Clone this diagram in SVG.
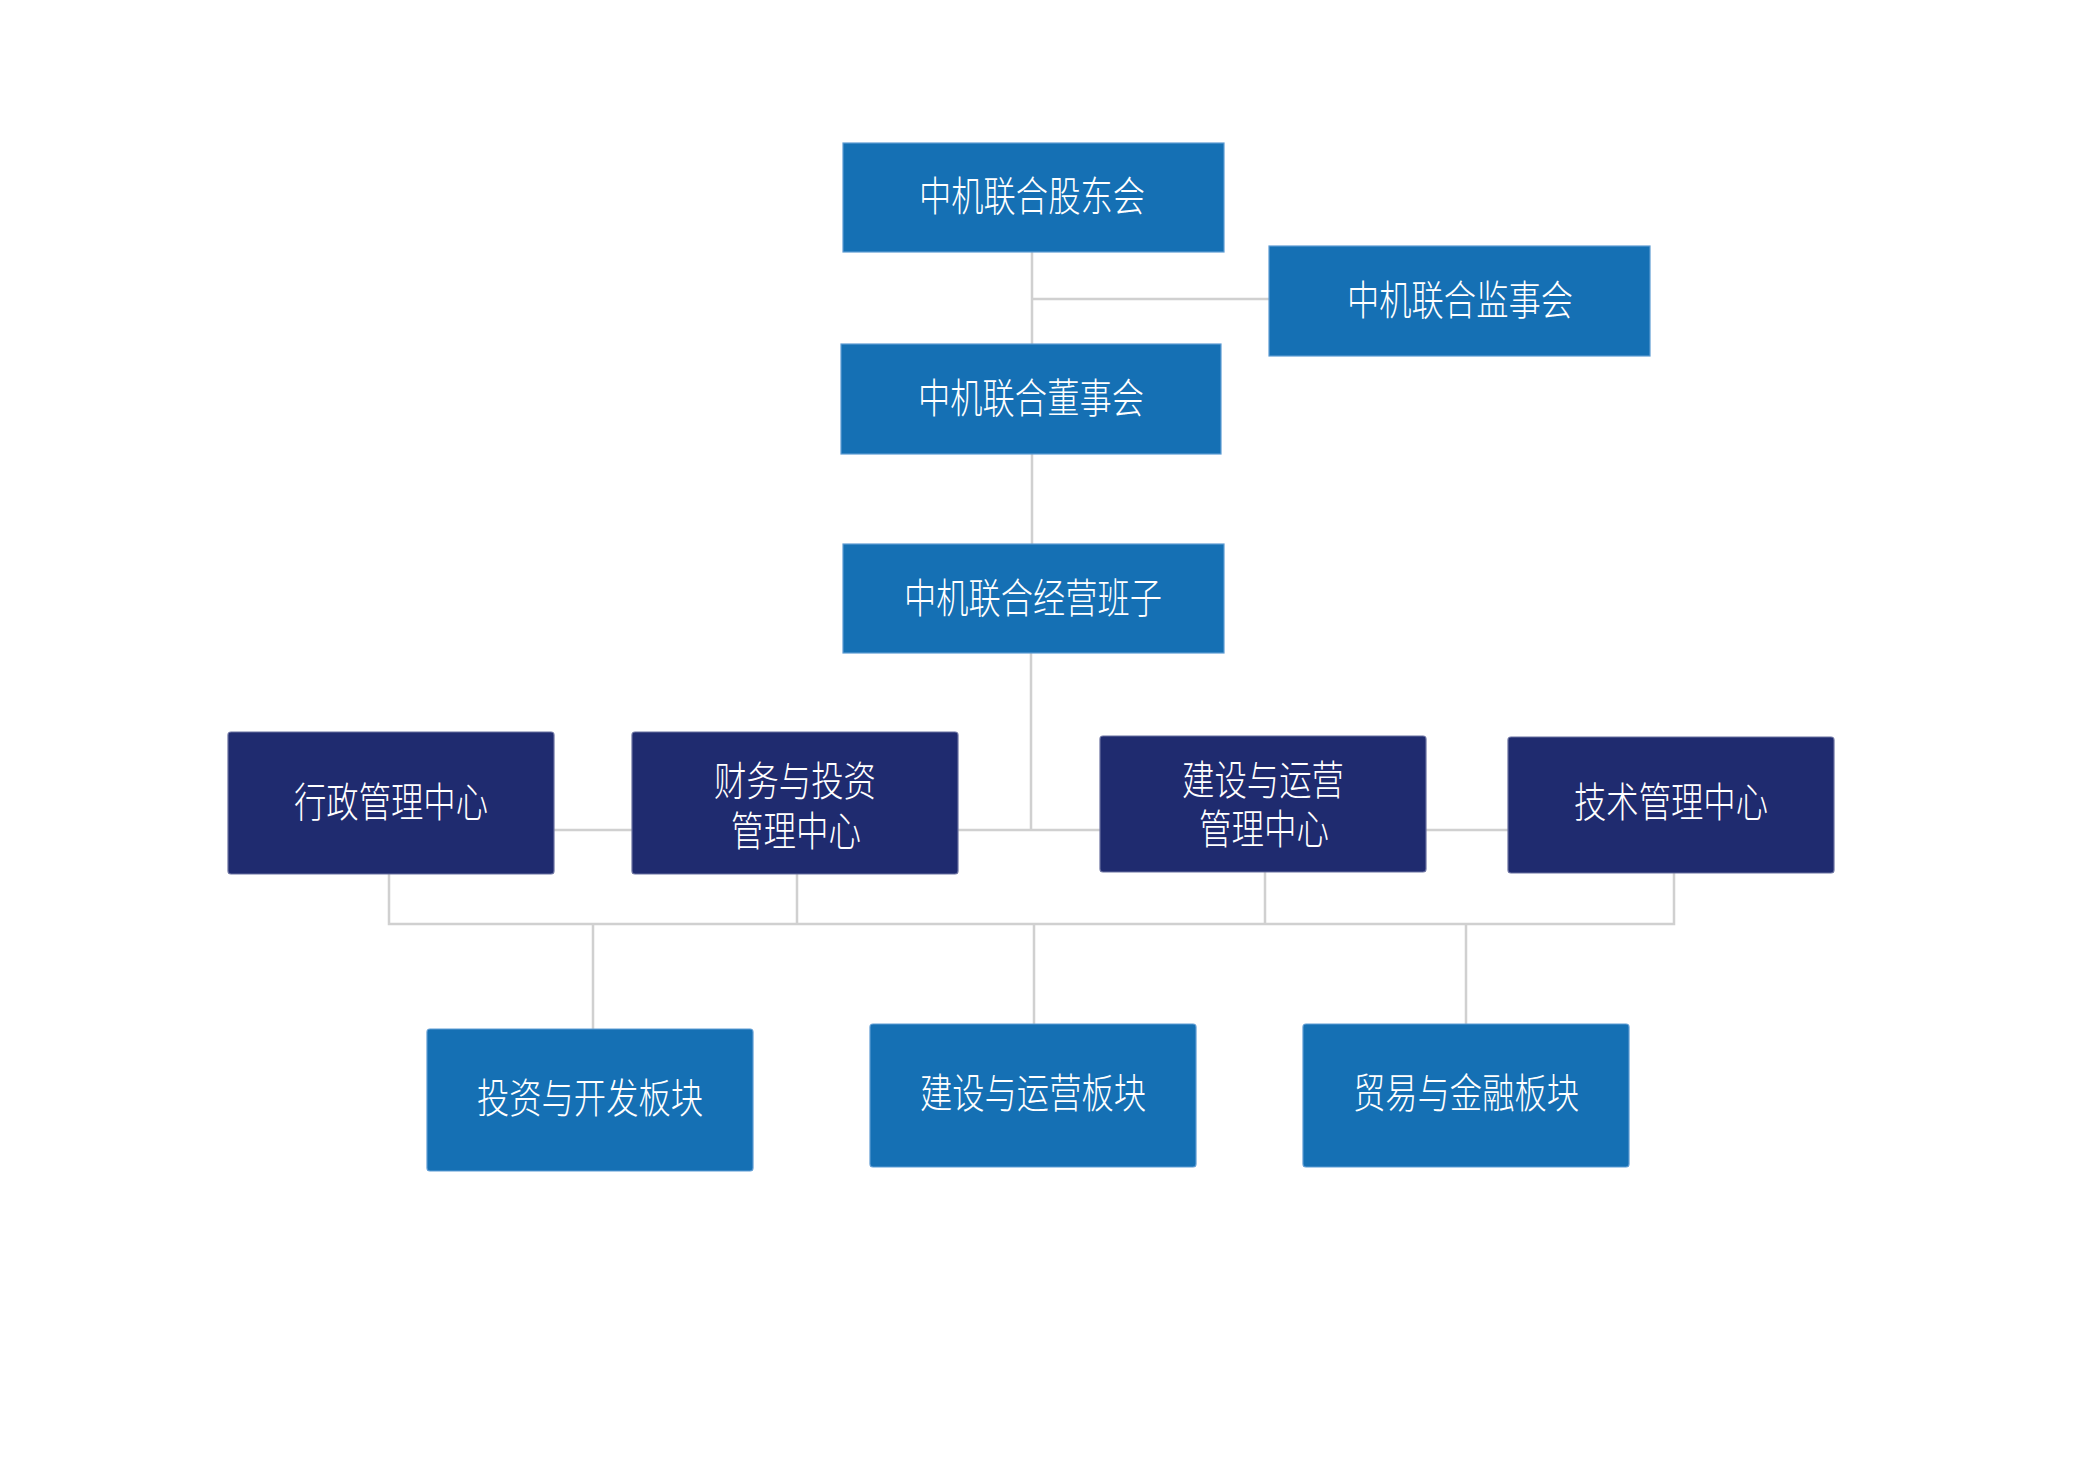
<svg xmlns="http://www.w3.org/2000/svg" width="2083" height="1458" viewBox="0 0 2083 1458">
<style>
.bg{fill:#ffffff}
.conn{stroke:#d0d0d0;stroke-width:2.5;fill:none}
.top{fill:#1570b4;stroke:#5d9bd3;stroke-width:1.2}
.navy{fill:#1f2b6f;stroke:#6970a0;stroke-width:1.2}
.blk{fill:#1570b4;stroke:#5d9bd3;stroke-width:1.2}
.t{font-family:"Noto Sans CJK SC","Noto Sans",sans-serif;font-size:41px;font-weight:300;fill:#ffffff;text-anchor:middle}
</style>
<rect class="bg" x="0" y="0" width="2083" height="1458"/>
<g id="connectors">
<path class="conn" d="M1032 252 V344 M1032 299 H1270 M1032 454 V544 M1031 653 V830 M554 830 H1508"/>
<path class="conn" d="M389 874 V924 H1674 V873 M797 874 V924 M1265 872 V924"/>
<path class="conn" d="M593 924 V1029 M1034 924 V1024 M1466 924 V1024"/>
</g>
<g id="n-gudong">
<rect class="top" x="843" y="143" width="381" height="109"/>
<text class="t" x="1032" y="211" textLength="226" lengthAdjust="spacingAndGlyphs">中机联合股东会</text>
</g>
<g id="n-jianshi">
<rect class="top" x="1269" y="246" width="381" height="110"/>
<text class="t" x="1460" y="314.5" textLength="226" lengthAdjust="spacingAndGlyphs">中机联合监事会</text>
</g>
<g id="n-dongshi">
<rect class="top" x="841" y="344" width="380" height="110"/>
<text class="t" x="1031" y="412.5" textLength="226" lengthAdjust="spacingAndGlyphs">中机联合董事会</text>
</g>
<g id="n-jingying">
<rect class="top" x="843" y="544" width="381" height="109"/>
<text class="t" x="1033" y="612.5" textLength="258" lengthAdjust="spacingAndGlyphs">中机联合经营班子</text>
</g>
<g id="n-xingzheng">
<rect class="navy" x="228" y="732" width="326" height="142" rx="3"/>
<text class="t" x="391" y="817" textLength="194" lengthAdjust="spacingAndGlyphs">行政管理中心</text>
</g>
<g id="n-caiwu">
<rect class="navy" x="632" y="732" width="326" height="142" rx="3"/>
<text class="t" x="795" y="796" textLength="162" lengthAdjust="spacingAndGlyphs">财务与投资</text>
<text class="t" x="796" y="846" textLength="130" lengthAdjust="spacingAndGlyphs">管理中心</text>
</g>
<g id="n-jianshe-center">
<rect class="navy" x="1100" y="736" width="326" height="136" rx="3"/>
<text class="t" x="1263" y="795" textLength="162" lengthAdjust="spacingAndGlyphs">建设与运营</text>
<text class="t" x="1264" y="844" textLength="130" lengthAdjust="spacingAndGlyphs">管理中心</text>
</g>
<g id="n-jishu">
<rect class="navy" x="1508" y="737" width="326" height="136" rx="3"/>
<text class="t" x="1671" y="817" textLength="194" lengthAdjust="spacingAndGlyphs">技术管理中心</text>
</g>
<g id="n-touzi">
<rect class="blk" x="427" y="1029" width="326" height="142" rx="3"/>
<text class="t" x="590" y="1112.5" textLength="226" lengthAdjust="spacingAndGlyphs">投资与开发板块</text>
</g>
<g id="n-jianshe-block">
<rect class="blk" x="870" y="1024" width="326" height="143" rx="3"/>
<text class="t" x="1033" y="1107.5" textLength="226" lengthAdjust="spacingAndGlyphs">建设与运营板块</text>
</g>
<g id="n-maoyi">
<rect class="blk" x="1303" y="1024" width="326" height="143" rx="3"/>
<text class="t" x="1466" y="1107.5" textLength="226" lengthAdjust="spacingAndGlyphs">贸易与金融板块</text>
</g>
</svg>
